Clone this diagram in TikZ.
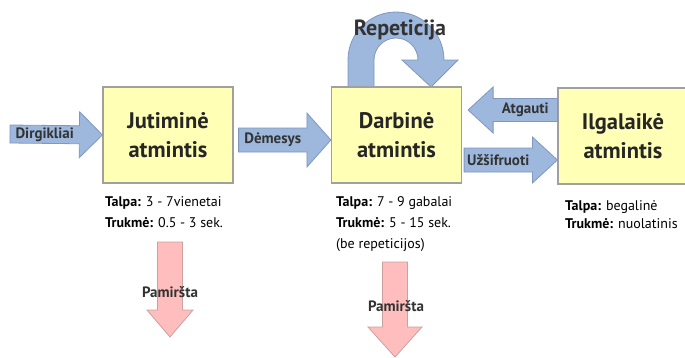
\documentclass[tikz,border=0pt]{standalone}
\usepackage{fontspec}
\setmainfont{PT Sans}
\usetikzlibrary{calc}

\definecolor{boxfill}{RGB}{255,255,181}
\definecolor{boxline}{RGB}{160,160,160}
\definecolor{flowfill}{RGB}{157,184,220}
\definecolor{flowline}{RGB}{128,152,190}
\definecolor{forgetfill}{RGB}{255,189,189}
\definecolor{forgetline}{RGB}{205,160,160}

\tikzset{
  membox/.style={draw=boxline, line width=1.2pt, fill=boxfill, minimum width=130pt, minimum height=96pt,
    align=center, font=\fontsize{22.5}{29}\selectfont\bfseries, text=black!85},
  flowarrow/.style={draw=flowline, line width=0.8pt, fill=flowfill},
  forgetarrow/.style={draw=forgetline, line width=0.8pt, fill=forgetfill},
  arrowlabel/.style={font=\fontsize{15}{17}\selectfont\bfseries, text=black!80, inner sep=0pt},
  info/.style={anchor=north west, align=left, inner sep=0pt, font=\fontsize{14}{21}\selectfont}
}

\newcommand{\blockarrow}[7]{%
  \coordinate (ba-t) at #2;
  \coordinate (ba-h) at #3;
  \coordinate (ba-b) at ($(ba-h)!#6!(ba-t)$);
  \draw[#1] ($(ba-t)!#4!90:(ba-h)$) -- ($(ba-b)!#4!90:(ba-h)$) -- ($(ba-b)!#5!90:(ba-h)$) -- (ba-h)
    -- ($(ba-b)!#5!-90:(ba-h)$) -- ($(ba-b)!#4!-90:(ba-h)$) -- ($(ba-t)!#4!-90:(ba-h)$) -- cycle;
  \node[arrowlabel] at ($(ba-t)!0.5!(ba-b)$) {#7};
}

\begin{document}
\begin{tikzpicture}[x=1pt, y=1pt]

\useasboundingbox[fill=white] (0,0) rectangle (685,-357);

\draw[flowarrow] (348,-87) -- (348,-60) arc[start angle=180, end angle=0, radius=48pt]
  -- (458,-60) -- (431,-87) -- (402,-60) -- (418,-60)
  arc[start angle=0, end angle=180, radius=22pt] -- (374,-60) -- (374,-87) -- cycle;
\node[arrowlabel, font=\fontsize{22}{24}\selectfont\bfseries] (rep) at (400,-30) {Repeticija};

\node[membox] (jut) at (168,-135) {Jutiminė\\atmintis};
\node[membox] (darb) at (396.5,-135) {Darbinė\\atmintis};
\node[membox] (ilg) at (623,-136) {Ilgalaikė\\atmintis};

\coordinate (stim) at (10,-134);
\blockarrow{flowarrow}{(stim)}{(jut.west)}{9pt}{23pt}{23pt}{Dirgikliai}
\blockarrow{flowarrow}{([shift={(5pt,-5pt)}]jut.east)}{([yshift=-5pt]darb.west)}{12pt}{27pt}{24pt}{Dėmesys}
\blockarrow{flowarrow}{([yshift=26pt]ilg.west)}{([shift={(6pt,25pt)}]darb.east)}{11.5pt}{23pt}{25pt}{Atgauti}
\blockarrow{flowarrow}{([shift={(2pt,-25pt)}]darb.east)}{([yshift=-24pt]ilg.west)}{12pt}{23pt}{25pt}{Užšifruoti}

\node[info] (jutinfo) at (105,-196) {\textbf{Talpa:} 3 - 7vienetai\\\textbf{Trukmė:} 0.5 - 3 sek.};
\node[info] (darbinfo) at (336,-196) {\textbf{Talpa:} 7 - 9 gabalai\\\textbf{Trukmė:} 5 - 15 sek.\\(be repeticijos)};
\node[info, font=\fontsize{14}{18}\selectfont] (ilginfo) at (565,-200) {\textbf{Talpa:} begalinė\\\textbf{Trukmė:} nuolatinis};

\coordinate (f1a) at (170,-242);
\coordinate (f1b) at (170,-337);
\coordinate (f2a) at (395,-262);
\coordinate (f2b) at (395,-357);
\blockarrow{forgetarrow}{(f1a)}{(f1b)}{12.5pt}{23pt}{27pt}{}
\blockarrow{forgetarrow}{(f2a)}{(f2b)}{12.5pt}{27pt}{30pt}{}
\node[arrowlabel] (pam1) at (170,-292) {Pamiršta};
\node[arrowlabel] (pam2) at (396,-306) {Pamiršta};

\end{tikzpicture}
\end{document}
